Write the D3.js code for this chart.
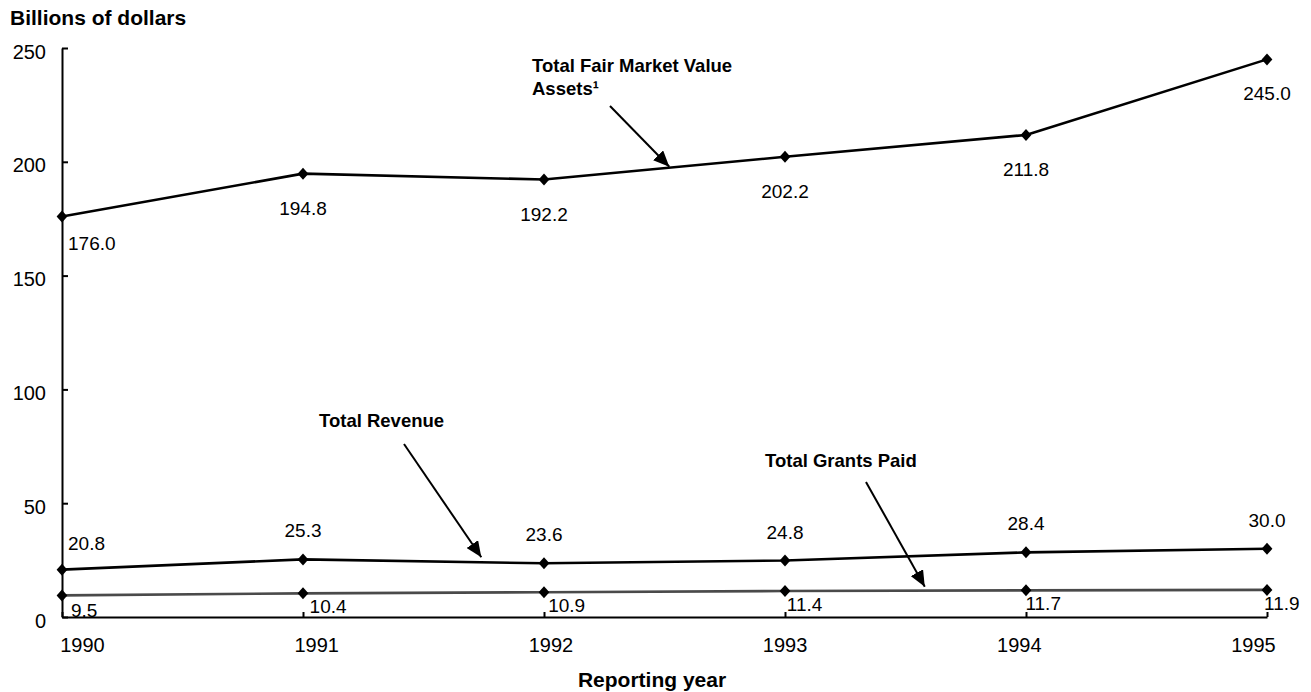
<!DOCTYPE html>
<html>
<head>
<meta charset="utf-8">
<script src="https://cdn.jsdelivr.net/npm/d3@7"></script>
<style>
  html, body { margin: 0; padding: 0; background: #fff; }
  svg { display: block; font-family: "Liberation Sans", Arial, sans-serif; }
</style>
</head>
<body>
<svg id="chart" width="1311" height="692"></svg>
<script>
const years = [1990, 1991, 1992, 1993, 1994, 1995];
const assets = [176.0, 194.8, 192.2, 202.2, 211.8, 245.0];
const revenue = [20.8, 25.3, 23.6, 24.8, 28.4, 30.0];
const grants = [9.5, 10.4, 10.9, 11.4, 11.7, 11.9];
const yTicks = [0, 50, 100, 150, 200, 250];
const yearLabels = ["1990", "1991", "1992", "1993", "1994", "1995"];

const svg = d3.select("#chart");

const x = d3.scaleLinear().domain([1990, 1995]).range([62, 1267]);
const xLab = d3.scaleLinear().domain([1990, 1995]).range([82, 1253]);
const xGrantLab = d3.scaleLinear().domain([1990, 1995]).range([71, 1264]);
const y = d3.scaleLinear().domain([0, 250]).range([617, 48]);

// diamond marker
const diamond = {
  draw(ctx, size) {
    const h = 6, w = 5.4;
    ctx.moveTo(0, -h); ctx.lineTo(w, 0); ctx.lineTo(0, h); ctx.lineTo(-w, 0); ctx.closePath();
  }
};

// Axes
const yAxis = d3.axisLeft(y).tickValues(yTicks).tickSizeInner(-6).tickSizeOuter(0).tickPadding(16);
const gy = svg.append("g").attr("transform", `translate(${x(1990)},0)`).call(yAxis);
gy.select(".domain").attr("stroke", "#000").attr("stroke-width", 2);
gy.selectAll(".tick line").attr("stroke", "#000").attr("stroke-width", 2);
gy.selectAll(".tick text").attr("font-size", 20).attr("fill", "#000").attr("dy", "0.5em")
  .attr("font-family", "Liberation Sans, Arial, sans-serif");

const xAxis = d3.axisBottom(x).tickValues(years).tickSizeInner(-5).tickSizeOuter(0).tickFormat("");
const gx = svg.append("g").attr("transform", `translate(0,${y(0)})`).call(xAxis);
gx.select(".domain").attr("stroke", "#000").attr("stroke-width", 2);
gx.selectAll(".tick line").attr("stroke", "#000").attr("stroke-width", 2);

const xLabAxis = d3.axisBottom(xLab).tickValues(years).tickSize(0).tickFormat((d, i) => yearLabels[i]);
const gxl = svg.append("g").attr("transform", `translate(0,${y(0)})`).call(xLabAxis);
gxl.select(".domain").remove();
gxl.selectAll(".tick text").attr("font-size", 20).attr("fill", "#000").attr("y", 35).attr("dy", 0)
  .attr("font-family", "Liberation Sans, Arial, sans-serif");

// Axis titles
svg.append("text").attr("x", 10).attr("y", 25).attr("font-size", 21).attr("font-weight", "bold")
  .text("Billions of dollars");
svg.append("text").attr("x", 652).attr("y", 687).attr("text-anchor", "middle")
  .attr("font-size", 21).attr("font-weight", "bold").text("Reporting year");

// Lines
const series = [
  { name: "assets", values: assets, color: "#000" },
  { name: "revenue", values: revenue, color: "#000" },
  { name: "grants", values: grants, color: "#4a4a4a" }
];
const line = d3.line().x((d, i) => x(years[i])).y(d => y(d));
series.forEach(s => {
  svg.append("path").datum(s.values).attr("d", line)
    .attr("fill", "none").attr("stroke", s.color).attr("stroke-width", 2.6)
    .attr("stroke-linejoin", "round");
});
series.forEach(s => {
  svg.append("g").selectAll("path").data(s.values).join("path")
    .attr("d", d3.symbol().type(diamond))
    .attr("transform", (d, i) => `translate(${x(years[i])},${y(d)})`)
    .attr("fill", "#000");
});

// Value labels
const fmt = d3.format(".1f");
svg.append("g").selectAll("text").data(assets).join("text")
  .attr("x", (d, i) => i === 0 ? x(years[i]) + 6 : x(years[i]))
  .attr("y", (d, i) => i === 0 ? y(d) + 34 : y(d) + 41)
  .attr("text-anchor", (d, i) => i === 0 ? "start" : "middle")
  .attr("font-size", 19).text(fmt);
svg.append("g").selectAll("text").data(revenue).join("text")
  .attr("x", (d, i) => i === 0 ? x(years[i]) + 6 : x(years[i]))
  .attr("y", (d, i) => i === 0 ? y(d) - 20 : y(d) - 22)
  .attr("text-anchor", (d, i) => i === 0 ? "start" : "middle")
  .attr("font-size", 19).text(fmt);
svg.append("g").selectAll("text").data(grants).join("text")
  .attr("x", (d, i) => xGrantLab(years[i]))
  .attr("y", (d, i) => y(d) + (i === 0 ? 22 : 20))
  .attr("text-anchor", "start")
  .attr("font-size", 19).text(fmt);

// Annotations
const defs = svg.append("defs");
defs.append("marker").attr("id", "arrow").attr("viewBox", "0 0 16 14")
  .attr("refX", 16).attr("refY", 7).attr("markerWidth", 16).attr("markerHeight", 14)
  .attr("markerUnits", "userSpaceOnUse").attr("orient", "auto")
  .append("path").attr("d", "M0,0 L16,7 L0,14 Z").attr("fill", "#000");

function interp(vals, t) {
  const i = Math.floor(t - 1990), f = t - 1990 - i;
  return vals[i] + (vals[i + 1] - vals[i]) * f;
}
const annotations = [
  { lines: ["Total Fair Market Value", "Assets\u00B9"], tx: 532, ty: 72, from: [610, 106], year: 1992.52, vals: assets, off: -1 },
  { lines: ["Total Revenue"], tx: 319, ty: 427, from: [404, 444], year: 1991.74, vals: revenue, off: -5 },
  { lines: ["Total Grants Paid"], tx: 765, ty: 467, from: [866, 482], year: 1993.58, vals: grants, off: -4 }
];
annotations.forEach(a => {
  const t = svg.append("text").attr("x", a.tx).attr("y", a.ty)
    .attr("font-size", 18.5).attr("font-weight", "bold");
  a.lines.forEach((l, i) => {
    t.append("tspan").attr("x", a.tx).attr("dy", i === 0 ? 0 : 23).text(l);
  });
  svg.append("line")
    .attr("x1", a.from[0]).attr("y1", a.from[1])
    .attr("x2", x(a.year)).attr("y2", y(interp(a.vals, a.year)) + a.off)
    .attr("stroke", "#000").attr("stroke-width", 2)
    .attr("marker-end", "url(#arrow)");
});
</script>
</body>
</html>
